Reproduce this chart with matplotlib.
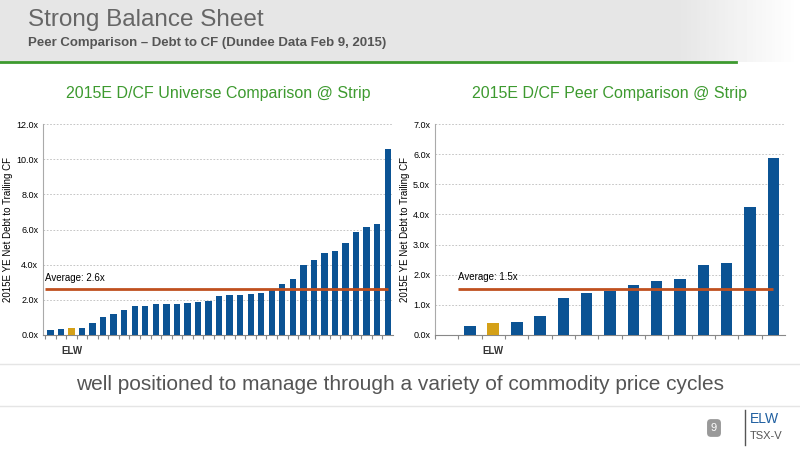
import numpy as np
import matplotlib.pyplot as plt

plt.rcParams["font.family"] = ["Liberation Sans", "DejaVu Sans"]

# data
universe = [0.29, 0.34, 0.42, 0.42, 0.67, 1.0, 1.22, 1.43, 1.66, 1.66, 1.75, 1.79, 1.79,
            1.83, 1.89, 1.92, 2.21, 2.25, 2.3, 2.34, 2.38, 2.6, 2.9, 3.2, 4.0, 4.27,
            4.67, 4.8, 5.22, 5.87, 6.13, 6.32, 10.57]
universe_elw = 2
universe_avg = 2.6

peers = [0.3, 0.4, 0.43, 0.64, 1.23, 1.39, 1.47, 1.66, 1.79, 1.87, 2.32, 2.38, 4.25, 5.87]
peers_elw = 1
peers_avg = 1.53

BLUE = "#0b5394"
GOLD = "#d4a017"
ORANGE = "#c0501f"
GREEN = "#3d9a2f"

fig = plt.figure(figsize=(8, 4.5), dpi=100)

# header band, light grey fading to white at the right
hdr = fig.add_axes([0, 1 - 62 / 450, 1, 62 / 450])
t = np.linspace(0, 1, 256)
grad = np.where(t < 0.85, 0.9, 0.9 + (t - 0.85) * 0.66).reshape(1, -1)
hdr.imshow(grad, cmap="gray", vmin=0, vmax=1, aspect="auto", extent=[0, 1, 0, 1])
hdr.axis("off")
fig.add_artist(plt.Line2D([0, 0.92], [1 - 62 / 450] * 2, color=GREEN, lw=2))
fig.text(28 / 800, 1 - 20 / 450, "Strong Balance Sheet", fontsize=17.5, color="#666666", va="center")
fig.text(28 / 800, 1 - 43 / 450, "Peer Comparison \u2013 Debt to CF (Dundee Data Feb 9, 2015)",
         fontsize=9.5, color="#555555", weight="bold", va="center")


def draw(ax, vals, elw, avg, ymax, step, nslots, offset, title):
    x = np.arange(len(vals)) + offset
    colors = [GOLD if i == elw else BLUE for i in range(len(vals))]
    ax.bar(x, vals, width=0.5 if offset else 0.6, color=colors, zorder=3)
    ax.set_xlim(-0.7 if not offset else -0.5, nslots - 0.5)
    ax.set_ylim(0, ymax)
    ax.set_yticks(np.arange(0, ymax + 0.01, step))
    ax.set_yticklabels([f"{v:.1f}x" for v in np.arange(0, ymax + 0.01, step)], fontsize=6.5)
    ax.set_xticks(np.arange(nslots) - 0.5)
    ax.set_xticklabels([])
    ax.tick_params(axis="x", length=3, color="#888888")
    ax.tick_params(axis="y", length=0)
    ax.grid(axis="y", ls=(0, (2, 2)), color="#bbbbbb", lw=0.6, zorder=0)
    for s in ["top", "right"]:
        ax.spines[s].set_visible(False)
    ax.spines["left"].set_color("#aaaaaa")
    ax.spines["bottom"].set_color("#888888")
    ax.hlines(avg, x[0] - 0.5, x[-1], color=ORANGE, lw=2, zorder=4)
    ax.text(x[0] - 0.5, avg + ymax * 0.04, f"Average: {avg:.1f}x" if offset == 0 else "Average: 1.5x",
            fontsize=7, zorder=5)
    ax.text(x[elw], -ymax * 0.05, "ELW", fontsize=7, ha="center", va="top", weight="bold", color="#333333")
    ax.set_ylabel("2015E YE Net Debt to Trailing CF", fontsize=7, labelpad=2)
    ax.set_title(title, fontsize=11.5, color=GREEN, pad=19)


ax1 = fig.add_axes([43 / 800, 1 - 335 / 450, 350 / 800, 211 / 450])
draw(ax1, universe, universe_elw, universe_avg, 12, 2, len(universe), 0,
     "2015E D/CF Universe Comparison @ Strip")
ax2 = fig.add_axes([435 / 800, 1 - 335 / 450, 350 / 800, 211 / 450])
draw(ax2, peers, peers_elw, peers_avg, 7, 1, len(peers) + 1, 1,
     "2015E D/CF Peer Comparison @ Strip")

fig.add_artist(plt.Line2D([0, 1], [1 - 364 / 450] * 2, color="#e5e5e5", lw=1))
fig.add_artist(plt.Line2D([0, 1], [1 - 406 / 450] * 2, color="#e5e5e5", lw=1))
fig.text(0.5, 1 - 385 / 450, "well positioned to manage through a variety of commodity price cycles",
         fontsize=15, color="#555555", ha="center", va="center")

fig.text(714 / 800, 1 - 428 / 450, "9", fontsize=8, color="white", ha="center", va="center",
         bbox=dict(boxstyle="round,pad=0.35", fc="#999999", ec="none"))
fig.add_artist(plt.Line2D([745 / 800] * 2, [1 - 445 / 450, 1 - 410 / 450], color="#555555", lw=1))
fig.text(750 / 800, 1 - 419 / 450, "ELW", fontsize=10, color="#1f5fa0", va="center")
fig.text(750 / 800, 1 - 436 / 450, "TSX-V", fontsize=8, color="#555555", va="center")

fig.savefig("out.png", dpi=100)
